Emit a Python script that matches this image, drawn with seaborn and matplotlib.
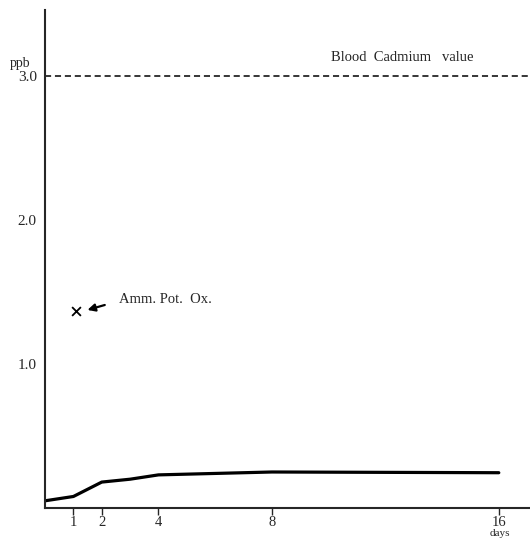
import numpy as np
import pandas as pd
import matplotlib.pyplot as plt
import seaborn as sns

# Blood cadmium curve
days = [0, 1, 2, 3, 4, 8, 16]
ppb = [0.05, 0.08, 0.18, 0.20, 0.23, 0.25, 0.245]

# single point for ammonium potassium oxalate
amm_day = [1.1]
amm_ppb = [1.37]

blood_level = 3.0
x_ticks = [1, 2, 4, 8, 16]
y_ticks = [1.0, 2.0, 3.0]
y_tick_labels = ["1.0", "2.0", "3.0"]

sns.set_style("ticks")
plt.rcParams['font.family'] = ['Liberation Serif', 'DejaVu Serif']

fig = plt.figure(figsize=(5.3, 5.41), dpi=100)
ax = fig.add_axes([0.085, 0.061, 0.915, 0.921])

df = pd.DataFrame({'days': days, 'ppb': ppb})
sns.lineplot(data=df, x='days', y='ppb', ax=ax, color='black', linewidth=2.3)
sns.scatterplot(x=amm_day, y=amm_ppb, ax=ax, marker='x', color='black', s=40, linewidth=1.3)

ax.axhline(blood_level, color='black', linestyle=(0, (4, 2.5)), linewidth=1.1)

ax.set_xlim(0, 17.1)
ax.set_ylim(0, 3.46)
ax.set_xticks(x_ticks)
ax.set_xticklabels([str(t) for t in x_ticks], fontsize=10.5)
ax.set_yticks(y_ticks)
ax.set_yticklabels(y_tick_labels, fontsize=11)
ax.tick_params(axis='x', length=5, width=1.0, direction='out', pad=1)
ax.tick_params(axis='y', length=0, pad=6)
ax.set_xlabel('')
ax.set_ylabel('')

for side in ['top', 'right']:
    ax.spines[side].set_visible(False)
ax.spines['left'].set_linewidth(1.5)
ax.spines['bottom'].set_linewidth(1.5)

ax.text(-0.5, 3.09, 'ppb', ha='right', va='center', fontsize=10)
ax.text(16.05, -0.21, 'days', ha='center', va='bottom', fontsize=8)
ax.text(10.1, 3.125, 'Blood  Cadmium   value', ha='left', va='center', fontsize=10.5)
ax.text(2.6, 1.45, 'Amm. Pot.  Ox.', ha='left', va='center', fontsize=10.5)
ax.annotate('', xy=(1.4, 1.37), xytext=(2.2, 1.415),
            arrowprops=dict(arrowstyle='-|>', color='black', lw=1.6, mutation_scale=11))

fig.savefig('out.png', dpi=100)
